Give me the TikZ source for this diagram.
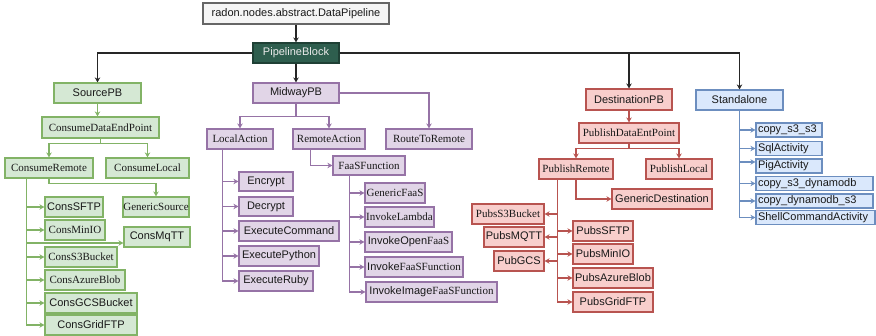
\documentclass[tikz,border=0pt]{standalone}
\usepackage{fontspec}
\setmainfont{Liberation Serif}
\setsansfont{Liberation Sans}
\usetikzlibrary{arrows.meta}

\definecolor{gfill}{HTML}{D5E8D4}\definecolor{gline}{HTML}{82B366}
\definecolor{pfill}{HTML}{E1D5E7}\definecolor{pline}{HTML}{9673A6}
\definecolor{rfill}{HTML}{F8CECC}\definecolor{rline}{HTML}{B85450}
\definecolor{bfill}{HTML}{DAE8FC}\definecolor{bline}{HTML}{6C8EBF}
\definecolor{rootfill}{HTML}{F5F5F5}\definecolor{rootline}{HTML}{666666}
\definecolor{pbfill}{HTML}{2E5E4E}\definecolor{pbline}{HTML}{1F4035}

\tikzset{
  base/.style={draw, line width=1.2pt, inner sep=0pt, minimum height=20pt,
    text=black!90, font=\fontsize{11}{12}\selectfont\sffamily},
  rm/.style={font=\fontsize{11}{12}\selectfont\rmfamily},
  wd/.style={minimum width=#1pt},
  hd/.style={minimum height=#1pt},
  gbox/.style={base, fill=gfill, draw=gline},
  pbox/.style={base, fill=pfill, draw=pline},
  rbox/.style={base, fill=rfill, draw=rline},
  bbox/.style={base, fill=bfill, draw=bline, minimum height=14pt,
    inner xsep=2pt, align=left},
  conn/.style={line width=1.2pt, -{Stealth[length=5pt,width=5.5pt]}},
  karrow/.style={conn, draw=black!85, line width=1.5pt},
  garrow/.style={conn, draw=gline},
  parrow/.style={conn, draw=pline},
  rarrow/.style={conn, draw=rline},
  barrow/.style={conn, draw=bline},
}

\begin{document}
\begin{tikzpicture}[x=1pt, y=-1pt]
\useasboundingbox (0,0) rectangle (876,336);

% top of the hierarchy
\node[base, fill=rootfill, draw=rootline, wd=186, hd=21] (radon) at (296,13.5) {radon.nodes.abstract.DataPipeline};
\node[base, fill=pbfill, draw=pbline, text=white!92!black, wd=86] (pb) at (296,53) {PipelineBlock};

\node[gbox, wd=87] (src) at (97.5,93) {SourcePB};
\node[pbox, wd=86] (mid) at (296,93) {MidwayPB};
\node[rbox, wd=86, hd=21] (dst) at (629,99.5) {DestinationPB};
\node[bbox, text width=83pt, align=center, minimum height=20pt] (sta) at (739.5,100) {Standalone};

% source branch
\node[gbox, rm, wd=117, hd=21] (cdep) at (100.5,127.5) {ConsumeDataEndPoint};
\node[gbox, rm, wd=88] (crem) at (49,168) {ConsumeRemote};
\node[gbox, rm, wd=83] (cloc) at (147.5,168) {ConsumeLocal};
\node[gbox, rm, wd=66] (gsrc) at (156,207) {GenericSource};
\node[gbox, wd=58] (csftp) at (74,207) {ConsSFTP};
\node[gbox, rm, wd=60] (cminio) at (75,230) {ConsMinIO};
\node[gbox, wd=66] (cmqtt) at (157,237) {ConsMqTT};
\node[gbox, rm, wd=72] (cs3) at (81,257) {ConsS3Bucket};
\node[gbox, rm, wd=80] (cazure) at (85,280) {ConsAzureBlob};
\node[gbox, wd=92] (cgcs) at (91,303) {ConsGCSBucket};
\node[gbox, wd=92] (cgrid) at (91,325) {ConsGridFTP};

% midway branch
\node[pbox, rm, wd=66] (la) at (240,139) {LocalAction};
\node[pbox, rm, wd=72] (ra) at (329,139) {RemoteAction};
\node[pbox, rm, wd=86] (rtr) at (429,139) {RouteToRemote};
\node[pbox, rm, wd=72, hd=19] (faas) at (369,165.5) {FaaSFunction};
\node[pbox, wd=54, hd=19] (enc) at (266,181.5) {Encrypt};
\node[pbox, wd=54, hd=19] (dec) at (266,206.5) {Decrypt};
\node[pbox, wd=100] (ecmd) at (289,231) {ExecuteCommand};
\node[pbox, wd=80] (epy) at (279,256) {ExecutePython};
\node[pbox, wd=74] (erb) at (276,281) {ExecuteRuby};
\node[pbox, rm, wd=60] (gfaas) at (395,193) {GenericFaaS};
\node[pbox, rm, wd=69] (ilam) at (399.5,217) {InvokeLambda};
\node[pbox, wd=87] (iopen) at (408.5,242) {InvokeOpen{\rmfamily FaaS}};
\node[pbox, wd=98] (ifaas) at (414,267) {Invoke{\rmfamily FaaSFunction}};
\node[pbox, wd=131] (iimg) at (431.5,292) {InvokeImage{\rmfamily FaaSFunction}};

% destination branch
\node[rbox, rm, wd=100] (pdep) at (629,133) {PublishDataEntPoint};
\node[rbox, rm, wd=74] (prem) at (576,169) {PublishRemote};
\node[rbox, rm, wd=66] (ploc) at (679,169) {PublishLocal};
\node[rbox, wd=100] (gdst) at (662,199) {GenericDestination};
\node[rbox, rm, wd=72] (ps3) at (508,214) {PubsS3Bucket};
\node[rbox, wd=60] (pmqtt) at (514,237) {PubsMQTT};
\node[rbox, wd=50] (pgcs) at (519,261) {PubGCS};
\node[rbox, wd=60] (psftp) at (603,231) {PubsSFTP};
\node[rbox, wd=60] (pminio) at (603,254) {PubsMinIO};
\node[rbox, wd=80] (pazure) at (613,278) {PubsAzureBlob};
\node[rbox, wd=80] (pgrid) at (613,302) {PubsGridFTP};

% standalone activities
\node[bbox, text width=62pt] (c1) at (789,130) {copy\_s3\_s3};
\node[bbox, text width=62pt] (sql) at (789,148.5) {SqlActivity};
\node[bbox, text width=62pt] (pig) at (789,166) {PigActivity};
\node[bbox, text width=113pt] (c2) at (814.5,183.5) {copy\_s3\_dynamodb};
\node[bbox, text width=113pt] (c3) at (814.5,201) {copy\_dynamodb\_s3};
\node[bbox, text width=115pt] (shell) at (815.5,217.5) {ShellCommandActivity};

% black connectors
\draw[karrow] (radon.south) -- (pb.north);
\draw[karrow] (pb.west) -| (src.north);
\draw[karrow] (pb.south) -- (mid.north);
\draw[karrow] (pb.east) -| (dst.north);
\draw[karrow] (pb.east) -| (sta.north);

% green connectors
\draw[garrow] (src.south) -- (src.south |- cdep.north);
\draw[garrow] (cdep.south) -- ++(0,5) -| (crem.north);
\draw[garrow] (cdep.south) -- ++(0,5) -| (cloc.north);
\draw[garrow] (crem.south) -- ++(0,5) -| (gsrc.north);
\coordinate (gt) at ([xshift=22pt]crem.south west);
\foreach \n in {csftp,cminio,cs3,cazure,cgcs,cgrid}
  \draw[garrow] (gt) |- (\n.west);
\draw[garrow] (gt) |- ([yshift=-6pt]cmqtt.west);

% purple connectors
\draw[parrow] (mid.south) -- ++(0,13) -| (la.north);
\draw[parrow] (mid.south) -- ++(0,13) -| (ra.north);
\draw[parrow] (mid.east) -| (rtr.north);
\draw[parrow] ([xshift=18pt]ra.south west) |- (faas.west);
\coordinate (lt) at ([xshift=16pt]la.south west);
\foreach \n in {enc,dec,ecmd,epy,erb}
  \draw[parrow] (lt) |- (\n.west);
\coordinate (ft) at ([xshift=17pt]faas.south west);
\foreach \n in {gfaas,ilam,iopen,ifaas,iimg}
  \draw[parrow] (ft) |- (\n.west);

% red connectors
\draw[rarrow] (dst.south) -- (dst.south |- pdep.north);
\draw[rarrow] (pdep.south) -- ++(0,5) -| (prem.north);
\draw[rarrow] (pdep.south) -- ++(0,5) -| (ploc.north);
\draw[rarrow] (prem.south) |- (gdst.west);
\coordinate (rt) at ([xshift=19pt]prem.south west);
\foreach \n in {psftp,pminio,pazure,pgrid}
  \draw[rarrow] (rt) |- (\n.west);
\foreach \n in {ps3,pmqtt,pgcs}
  \draw[rarrow] (rt) |- (\n.east);

% blue connectors
\foreach \n in {c1,sql,c2,c3,shell}
  \draw[barrow] (sta.south) |- (\n.west);
\draw[barrow] (sta.south) |- ([yshift=4pt]pig.west);
\end{tikzpicture}
\end{document}
